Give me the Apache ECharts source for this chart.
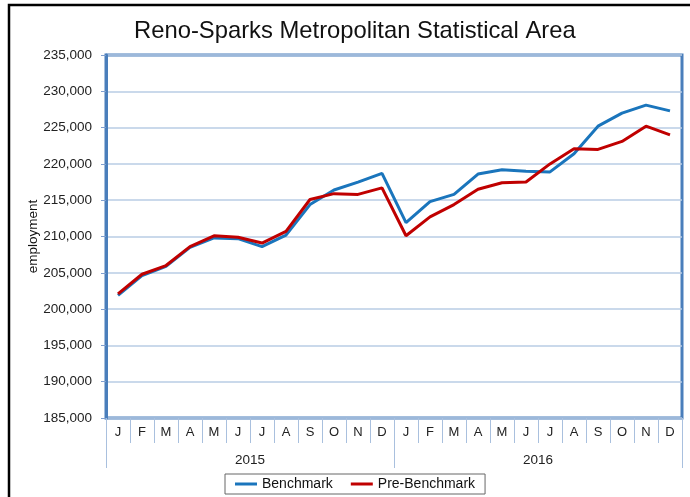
<!DOCTYPE html>
<html>
<head>
<meta charset="utf-8">
<script src="https://cdn.jsdelivr.net/npm/echarts@6/dist/echarts.min.js"></script>
<style>
  html, body { margin: 0; padding: 0; background: #fff; }
  #chart { width: 690px; height: 497px; }
</style>
</head>
<body>
<div id="chart"></div>
<script>
const months = ['J', 'F', 'M', 'A', 'M', 'J', 'J', 'A', 'S', 'O', 'N', 'D',
                'J', 'F', 'M', 'A', 'M', 'J', 'J', 'A', 'S', 'O', 'N', 'D']
const years = ['2015', '2016']
const benchmark = [201900, 204600, 205900, 208500, 209800, 209700, 208600, 210200, 214400, 216400, 217500, 218700,
                   211900, 214800, 215800, 218600, 219200, 219000, 218900, 221400, 225200, 227000, 228100, 227300]
const preBenchmark = [202100, 204800, 206000, 208600, 210100, 209900, 209100, 210700, 215100, 215900, 215800, 216700,
                      210100, 212700, 214400, 216500, 217400, 217500, 220000, 222100, 222000, 223100, 225200, 224000]

const chart = echarts.init(document.getElementById('chart'))
const font = '"Liberation Sans", Arial, sans-serif'
const tickCol = '#A9C0DE'

chart.setOption({
  animation: false,
  textStyle: { fontFamily: font },
  title: {
    text: 'Reno-Sparks Metropolitan Statistical Area',
    left: 129, top: 14,
    textStyle: { fontSize: 23.8, fontWeight: 'normal', color: '#111', fontFamily: font }
  },
  graphic: [{
    type: 'rect', silent: true,
    shape: { x: 9, y: 5, width: 720, height: 520 },
    style: { fill: 'none', stroke: '#000', lineWidth: 2.5 }
  }],
  legend: {
    bottom: 3, left: 225,
    icon: 'rect', itemWidth: 22, itemHeight: 3, itemGap: 18,
    borderColor: '#666', borderWidth: 1, padding: [3, 10],
    textStyle: { fontSize: 14, color: '#111', fontFamily: font },
    data: ['Benchmark', 'Pre-Benchmark']
  },
  grid: {
    left: 106, right: 8, top: 55, bottom: 79,
    show: true, borderColor: '#4A7EBB', borderWidth: 3
  },
  xAxis: [{
    type: 'category', data: months, boundaryGap: true,
    axisLine: { show: false },
    axisTick: { show: true, interval: 0, length: 25, lineStyle: { color: tickCol } },
    axisLabel: { interval: 0, fontSize: 13, color: '#222', margin: 8 }
  }, {
    type: 'category', data: years, position: 'bottom', boundaryGap: true,
    axisLine: { show: false },
    axisTick: { show: true, interval: 0, length: 50, lineStyle: { color: tickCol } },
    axisLabel: { interval: 0, fontSize: 13.5, color: '#222', margin: 35 }
  }],
  yAxis: {
    type: 'value', min: 185000, max: 235000, interval: 5000,
    name: 'employment', nameLocation: 'middle', nameGap: 66, nameRotate: 90,
    nameMoveOverlap: false,
    nameTextStyle: { fontSize: 13.5, color: '#111' },
    axisLine: { show: true, lineStyle: { color: '#4A7EBB', width: 3 } },
    axisTick: { show: true, length: 5, lineStyle: { color: '#7F9FCF' } },
    axisLabel: { fontSize: 13.5, color: '#222', margin: 14,
      formatter: v => v.toLocaleString('en-US') },
    splitLine: { lineStyle: { color: '#B9CDE5', width: 1.5 } }
  },
  series: [{
    name: 'Benchmark', type: 'line', data: benchmark,
    symbol: 'none', lineStyle: { color: '#1A75BC', width: 3 },
    itemStyle: { color: '#1A75BC' }
  }, {
    name: 'Pre-Benchmark', type: 'line', data: preBenchmark,
    symbol: 'none', lineStyle: { color: '#C00000', width: 3 },
    itemStyle: { color: '#C00000' }
  }]
})
</script>
</body>
</html>
